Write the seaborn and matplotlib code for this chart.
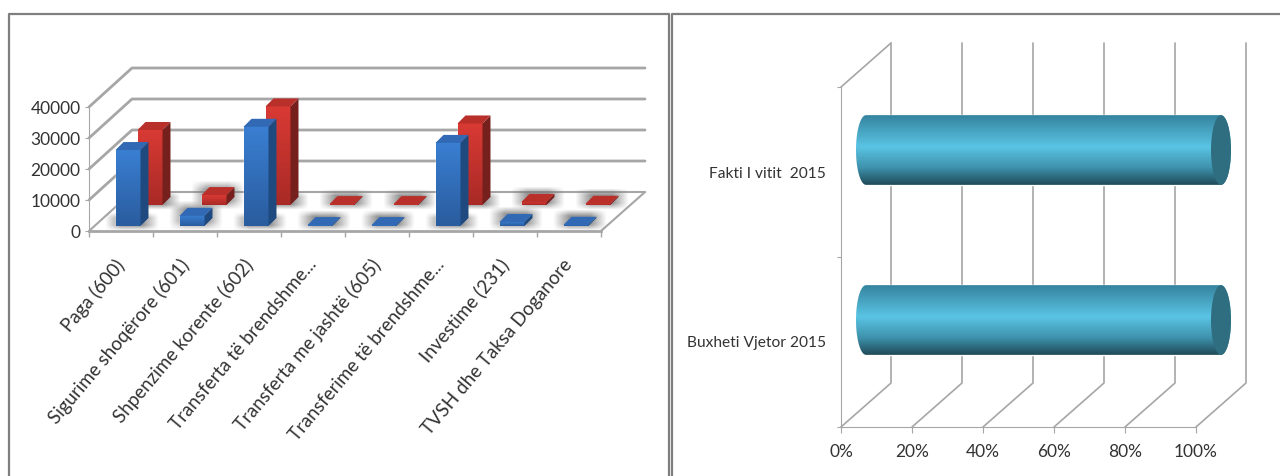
import numpy as np
import pandas as pd
import matplotlib
matplotlib.use("Agg")
import matplotlib.pyplot as plt
from matplotlib.colors import LinearSegmentedColormap as LSC
from matplotlib.patches import Polygon, Ellipse
from matplotlib.transforms import ScaledTranslation
import seaborn as sns

categories = ["Paga (600)", "Sigurime shoqërore (601)", "Shpenzime korente (602)",
              "Transferta të brendshme...", "Transferta me jashtë (605)",
              "Transferime të brendshme...", "Investime (231)", "TVSH dhe Taksa Doganore"]
series_blue = [24500, 3300, 32000, 300, 300, 26800, 1300, 400]
series_red = [24200, 3200, 31800, 300, 300, 26300, 1000, 400]
y_ticks = [0, 10000, 20000, 30000, 40000]

share_cats = ["Fakti I vitit  2015", "Buxheti Vjetor 2015"]
share_vals = [100, 100]
pct_ticks = [0, 20, 40, 60, 80, 100]

W, H = 1280, 476
sns.set_style("white")
plt.rcParams["font.family"] = ["Lato", "DejaVu Sans"]
TXT = "#333333"
GRID = "#a6a6a6"
FRAME = "#7f7f7f"

fig = plt.figure(figsize=(W / 100, H / 100), dpi=100)


def place(x0, x1, ytop, ybot, z):
    ax = fig.add_axes([x0 / W, 1 - ybot / H, (x1 - x0) / W, (ybot - ytop) / H], zorder=z)
    ax.patch.set_alpha(0)
    return ax


bg = fig.add_axes([0, 0, 1, 1], zorder=0)
bg.set_xlim(0, W)
bg.set_ylim(H, 0)
bg.axis("off")


def to_px(ax, x, y):
    return bg.transData.inverted().transform(ax.transData.transform((x, y)))


# panel frames
for xs, ys in [((9, 9, 669, 669), (476, 14, 14, 476)), ((672, 672, 1280), (476, 14, 14))]:
    bg.plot(xs, ys, color=FRAME, lw=1.6, solid_capstyle="butt")

# ---------- left chart ----------
main = place(89, 601, 107, 231, 1)
main.set_xlim(-0.5, 7.5)
main.set_ylim(0, 40000)
main.set_xticks(np.arange(-0.5, 8, 1))
main.set_xticklabels([])
main.set_xticks(np.arange(8), labels=categories, minor=True)
main.set_yticks(y_ticks)
main.tick_params(axis="x", which="major", length=4, color=GRID, width=1, bottom=True)
main.tick_params(axis="x", which="minor", length=0, pad=18, labelsize=13.5, labelcolor=TXT)
main.tick_params(axis="y", length=3, color=GRID, pad=3, labelsize=12.5, labelcolor=TXT, left=True)
shift = ScaledTranslation(-4.5 / 72, 0, fig.dpi_scale_trans)
for lab in main.get_xticklabels(minor=True):
    lab.set_rotation(50)
    lab.set_ha("right")
    lab.set_rotation_mode("anchor")
    lab.set_transform(lab.get_transform() + shift)
for s in ("top", "right"):
    main.spines[s].set_visible(False)
main.spines["left"].set_color(GRID)
main.spines["bottom"].set_color(GRID)
main.spines["bottom"].set_linewidth(2)

DX, DY = 43, -39
for v in y_ticks:
    x0, y0 = to_px(main, -0.5, v)
    bg.plot([x0, x0 + DX, 645], [y0, y0 + DY, y0 + DY], color=GRID, lw=2 if v else 1.5)
xr, yr = to_px(main, 7.5, 0)
bg.plot([xr, xr + DX + 1], [yr, yr + DY], color=GRID, lw=1.5)


def shadow(x0, x1, y0, y1):
    nx, ny = 60, 24
    ax_ = np.clip(np.minimum(np.linspace(0, 1, nx) / 0.3, np.linspace(1, 0, nx) / 0.3), 0, 1)
    ay_ = np.clip(np.minimum(np.linspace(0, 1, ny) / 0.3, np.linspace(1, 0, ny) / 0.3), 0, 1)
    rgba = np.zeros((ny, nx, 4))
    rgba[..., :3] = 0.45
    rgba[..., 3] = np.outer(ay_, ax_) * 0.75
    bg.imshow(rgba, extent=[x0, x1, y1, y0], aspect="auto", zorder=2, interpolation="bilinear")
    bg.set_xlim(0, W)
    bg.set_ylim(H, 0)


def layer(values, color, front, side, top, ox, oy, z):
    ax = place(89 + ox, 601 + ox, 107 + oy, 231 + oy, z)
    df = pd.DataFrame({"category": categories, "value": values})
    sns.barplot(data=df, x="category", y="value", color=color, width=0.39, saturation=1, ax=ax)
    ax.set_xlim(-0.5, 7.5)
    ax.set_ylim(0, 40000)
    ax.axis("off")
    cmap = LSC.from_list("f", front)
    d = 8
    for bar in ax.patches[:len(values)]:
        xa, w, h = bar.get_x(), bar.get_width(), bar.get_height()
        (px0, py0), (px1, py1) = to_px(ax, xa, 0), to_px(ax, xa + w, h)
        shadow(px0 - 11, px1 + d + 10, py1 - d - 7 if h < 5000 else py0 - 14, py0 + 5)
        ax.imshow(np.linspace(0, 1, 64)[:, None], cmap=cmap, aspect="auto",
                  extent=[xa, xa + w, 0, h], origin="upper", zorder=3)
        ax.add_patch(Polygon([(px1, py0), (px1 + d, py0 - d), (px1 + d, py1 - d), (px1, py1)],
                             fc=side, ec="none", transform=bg.transData, clip_on=False, zorder=3))
        ax.add_patch(Polygon([(px0, py1), (px1, py1), (px1 + d, py1 - d), (px0 + d, py1 - d)],
                             fc=top, ec="none", transform=bg.transData, clip_on=False, zorder=3))
    ax.set_xlim(-0.5, 7.5)
    ax.set_ylim(0, 40000)
    return ax


layer(series_red, "#c8302b", ["#d93a34", "#a92a26"], "#76201d", "#b92f2a", 29, -26, 2)
layer(series_blue, "#3273c5", ["#3a7fd2", "#2a5c9e"], "#1f4a80", "#3169b4", 7, -5, 3)

# ---------- right chart ----------
front = place(841, 1196, 87, 427, 1)
front.set_xlim(0, 100)
front.set_ylim(2, 0)
front.set_xticks(pct_ticks, labels=[f"{p}%" for p in pct_ticks])
front.set_yticks([0, 1, 2])
front.set_yticklabels([])
front.set_yticks([0.5, 1.5], labels=share_cats, minor=True)
front.tick_params(axis="x", length=4, color=GRID, pad=8, labelsize=12.5, labelcolor=TXT, bottom=True)
front.tick_params(axis="y", which="major", length=3, color=GRID, left=True)
front.tick_params(axis="y", which="minor", length=0, pad=11, labelsize=11.2, labelcolor=TXT)
for s in ("top", "right"):
    front.spines[s].set_visible(False)
front.spines["left"].set_color(GRID)
front.spines["bottom"].set_color(GRID)

RX, RY = 50, -44
for p in pct_ticks:
    x0, y0 = to_px(front, p, 2)
    xt = x0 + RX
    bg.plot([x0, xt, xt], [y0, y0 + RY, 43], color=GRID, lw=1.2)
xl, yl = to_px(front, 0, 0)
bg.plot([xl, xl + RX], [yl, yl + RY], color=GRID, lw=1.2)

cyl = place(866, 1221, 65, 405, 3)
df2 = pd.DataFrame({"category": share_cats, "value": share_vals})
sns.barplot(data=df2, y="category", x="value", color="#4fb4d4", width=0.41, saturation=1, orient="h", ax=cyl)
cyl.set_xlim(0, 100)
cyl.set_ylim(1.5, -0.5)
cyl.axis("off")
cyl_map = LSC.from_list("c", [(0, "#35849f"), (0.45, "#5ac4e4"), (0.75, "#3f93ad"), (1, "#1f4a58")])
t = np.linspace(-np.pi / 2, np.pi / 2, 40)
for bar in cyl.patches[:len(share_vals)]:
    ya, h, w = bar.get_y(), bar.get_height(), bar.get_width()
    (px0, ptop), (px1, pbot) = to_px(cyl, 0, ya), to_px(cyl, w, ya + h)
    cy, ry, rx = (ptop + pbot) / 2, (pbot - ptop) / 2, 10
    left = np.c_[px0 - rx * np.cos(t), cy + ry * np.sin(t)]
    right = np.c_[px1 + rx * np.cos(t[::-1]), cy + ry * np.sin(t[::-1])]
    outline = Polygon(np.r_[left, right], transform=bg.transData, fc="white", ec="none", clip_on=False)
    cyl.add_patch(outline)
    im = cyl.imshow(np.linspace(0, 1, 128)[:, None], cmap=cyl_map, aspect="auto",
                    extent=[-3, 103, ya + h, ya], origin="upper", zorder=4)
    im.set_clip_box(fig.bbox)
    im.set_clip_path(outline)
    cyl.add_patch(Ellipse((px1, cy), 2 * rx, 2 * ry, fc="#2f6d80", ec="none",
                          transform=bg.transData, zorder=5, clip_on=False))
cyl.set_xlim(0, 100)
cyl.set_ylim(1.5, -0.5)

fig.savefig("out.png", dpi=100)
